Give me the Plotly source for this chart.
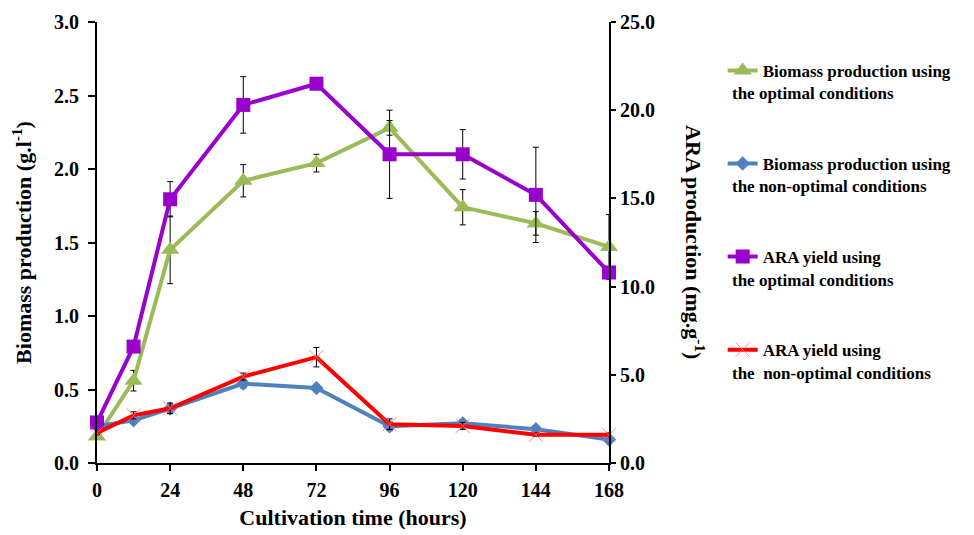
import plotly.graph_objects as go

hours = [0, 12, 24, 48, 72, 96, 120, 144, 168]

biomass_opt = [0.18, 0.56, 1.45, 1.92, 2.04, 2.28, 1.74, 1.63, 1.47]
biomass_opt_err = [0.02, 0.07, 0.23, 0.11, 0.06, 0.05, 0.12, 0.08, 0.22]

biomass_non = [0.25, 0.29, 0.37, 0.54, 0.51, 0.25, 0.27, 0.23, 0.16]
biomass_non_err = [0.02, 0.02, 0.03, 0.03, 0.02, 0.03, 0.02, 0.02, 0.02]

ara_opt = [2.3, 6.6, 14.95, 20.3, 21.5, 17.5, 17.5, 15.2, 10.8]
ara_opt_err = [0.2, 0.3, 1.0, 1.6, 0.2, 2.5, 1.4, 2.7, 0.3]

ara_non = [1.7, 2.7, 3.1, 4.9, 6.0, 2.2, 2.1, 1.6, 1.6]
ara_non_err = [0.1, 0.2, 0.3, 0.2, 0.55, 0.3, 0.2, 0.1, 0.1]

legend_line1 = ["Biomass production using", "Biomass production using",
                "ARA yield using", "ARA yield using"]
legend_line2 = ["the optimal conditions", "the non-optimal conditions",
                "the optimal conditions", "the  non-optimal conditions"]

FONT = "Liberation Serif, Times New Roman, Times, serif"
GREEN = "#9BBB59"
BLUE = "#4F81BD"
PURPLE = "#9900CC"
RED = "#FF0000"

fig = go.Figure()

def err(vals):
    return dict(type="data", array=vals, visible=True, color="black",
                thickness=1, width=3)

fig.add_trace(go.Scatter(
    x=hours, y=biomass_opt, name=legend_line1[0], legendgroup="g1",
    mode="lines+markers", line=dict(color=GREEN, width=4),
    marker=dict(symbol="triangle-up", size=16, color=GREEN),
    error_y=err(biomass_opt_err), cliponaxis=False, yaxis="y"))
fig.add_trace(go.Scatter(
    x=hours, y=biomass_non, name=legend_line1[1], legendgroup="g2",
    mode="lines+markers", line=dict(color=BLUE, width=4),
    marker=dict(symbol="diamond", size=11, color=BLUE),
    error_y=err(biomass_non_err), cliponaxis=False, yaxis="y"))
fig.add_trace(go.Scatter(
    x=hours, y=ara_opt, name=legend_line1[2], legendgroup="g3",
    mode="lines+markers", line=dict(color=PURPLE, width=4),
    marker=dict(symbol="square", size=14, color=PURPLE),
    error_y=err(ara_opt_err), cliponaxis=False, yaxis="y2"))
fig.add_trace(go.Scatter(
    x=hours, y=ara_non, name=legend_line1[3], legendgroup="g4",
    mode="lines+markers", line=dict(color=RED, width=4),
    marker=dict(symbol="x-thin", size=14, color="rgba(255,110,110,0.8)",
                line=dict(width=1, color="rgba(255,110,110,0.8)")),
    error_y=err(ara_non_err), cliponaxis=False, yaxis="y2"))

tickfont = dict(family=FONT, size=20, color="black", weight="bold")
titlefont = dict(family=FONT, size=22, color="black", weight="bold")
legfont = dict(family=FONT, size=17, color="black", weight="bold")

# the page body adds an 8px offset; compensate in size and margins
fig.update_layout(
    width=966, height=527,
    margin=dict(l=89, r=365, t=14, b=72, autoexpand=False),
    paper_bgcolor="white", plot_bgcolor="white",
    font=dict(family=FONT, color="black"),
    xaxis=dict(range=[0, 168], tickvals=hours[:1] + hours[2:],
               showgrid=False, zeroline=False, showline=True,
               linecolor="black", linewidth=2, ticks="outside",
               ticklen=6, tickwidth=2, tickcolor="black",
               tickfont=tickfont, ticklabelstandoff=2,
               title=dict(text="Cultivation time (hours)", font=titlefont,
                          standoff=10)),
    yaxis=dict(range=[0, 3], tickvals=[0, 0.5, 1, 1.5, 2, 2.5, 3],
               tickformat=".1f", showgrid=False, zeroline=False,
               showline=True, linecolor="black", linewidth=2,
               ticks="outside", ticklen=7, tickwidth=2, tickcolor="black",
               tickfont=tickfont, ticklabelstandoff=5,
               title=dict(text="Biomass production (g.l<sup>-1</sup>)",
                          font=titlefont, standoff=18)),
    yaxis2=dict(range=[0, 25], tickvals=[0, 5, 10, 15, 20, 25],
                tickformat=".1f", overlaying="y", side="right",
                showgrid=False, zeroline=False, showline=True,
                linecolor="black", linewidth=2, ticks="outside",
                ticklen=5, tickwidth=2, tickcolor="black",
                tickfont=tickfont),
    showlegend=True,
    legend=dict(x=1.222, xanchor="left", y=0.93, yanchor="top",
                font=legfont, tracegroupgap=68, itemwidth=30,
                bgcolor="rgba(0,0,0,0)", traceorder="grouped"),
)

# right axis title, rotated to read top-to-bottom
fig.add_annotation(text="ARA production (mg.g<sup>-1</sup>)", xref="paper",
                   yref="paper", x=1.2, y=0.5, showarrow=False,
                   textangle=90, font=titlefont)

# second lines of legend entries
ys = [93, 186, 280, 373]
for t, ypix in zip(legend_line2, ys):
    fig.add_annotation(text=t, xref="paper", yref="paper",
                       x=(730 - 97) / 512, y=(463 - ypix) / 441,
                       xanchor="left", yanchor="middle", showarrow=False,
                       font=legfont)

fig.write_html("out.html")
